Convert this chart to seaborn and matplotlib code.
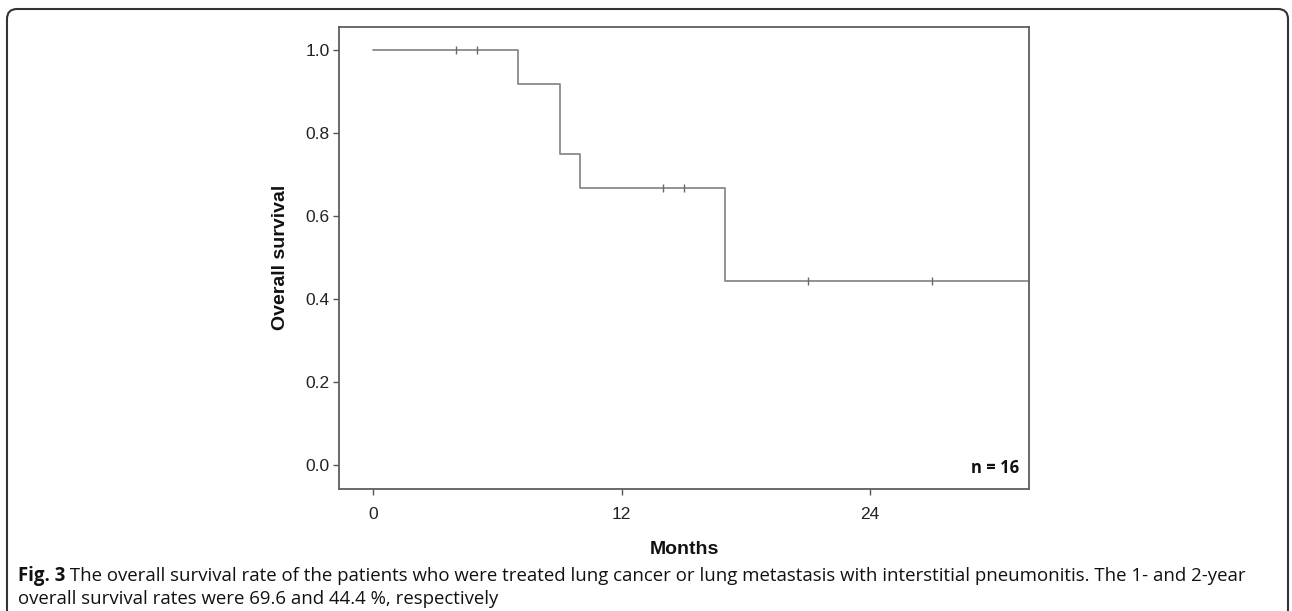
import matplotlib
matplotlib.use("Agg")
import matplotlib.pyplot as plt
import matplotlib.patches as mpatches
import matplotlib.transforms as mtransforms
import seaborn as sns
import pandas as pd

# Kaplan-Meier steps
km_months = [0, 7, 9, 10, 17, 33]
km_surv = [1.0, 0.917, 0.75, 0.667, 0.444, 0.444]

# censored observations (+ marks)
censor_months = [4, 5, 14, 15, 21, 27]
censor_surv = [1.0, 1.0, 0.667, 0.667, 0.444, 0.444]

x_ticks = [0, 12, 24]
y_ticks = [0.0, 0.2, 0.4, 0.6, 0.8, 1.0]

caption_bold = "Fig. 3"
caption_line1 = (" The overall survival rate of the patients who were treated lung cancer or lung "
                 "metastasis with interstitial pneumonitis. The 1- and 2-year")
caption_line2 = "overall survival rates were 69.6 and 44.4 %, respectively"

sns.set_theme(style="white")
plt.rcParams['font.family'] = ['Liberation Sans', 'DejaVu Sans']

W, H = 1292, 611
fig = plt.figure(figsize=(W / 100, H / 100), dpi=100)
ax = fig.add_axes([339.3 / W, 1 - 488.7 / H, (1029 - 339.3) / W, (488.7 - 27) / H])

km = pd.DataFrame({"Months": km_months, "Survival": km_surv})
cens = pd.DataFrame({"Months": censor_months, "Survival": censor_surv})

sns.lineplot(data=km, x="Months", y="Survival", drawstyle="steps-post",
             color="#8a8a8a", linewidth=1.3, ax=ax)
sns.scatterplot(data=cens, x="Months", y="Survival", marker="|", s=40,
                color="#6a6a6a", linewidth=1.0, ax=ax, zorder=3)

ax.set_xlim(-1.65, 31.7)
ax.set_ylim(-0.056, 1.055)
ax.set_xticks(x_ticks)
ax.set_yticks(y_ticks)
ax.set_xticklabels([str(t) for t in x_ticks], fontsize=12.5, color="#222222")
ax.set_yticklabels([f"{t:.1f}" for t in y_ticks], fontsize=12.5, color="#222222")
ax.tick_params(axis="both", which="major", length=4, width=1.0, color="#555555",
               direction="out", bottom=True, left=True, pad=3)
ax.tick_params(axis="x", pad=9)

for side in ["top", "right", "bottom", "left"]:
    ax.spines[side].set_visible(True)
    ax.spines[side].set_color("#5e5e5e")
    ax.spines[side].set_linewidth(1.3)

ax.set_xlabel("Months", fontsize=14, fontweight="bold", labelpad=14, color="#111111")
ax.set_ylabel("Overall survival", fontsize=14, fontweight="bold", labelpad=12, color="#111111")

ax.text(0.985, 0.025, "n = 16", transform=ax.transAxes, ha="right", va="bottom",
        fontsize=12, fontweight="bold", family=["Open Sans", "DejaVu Sans"], color="#111111")

# caption, bold label followed by regular text
cap_font = ["Open Sans", "DejaVu Sans"]
cap_size = 13.4
x0 = 18 / W
t_bold = fig.text(x0, 1 - 581 / H, caption_bold, fontsize=cap_size, fontweight="bold",
                  family=cap_font, va="baseline", color="#111111")
fig.canvas.draw()
bb = t_bold.get_window_extent(renderer=fig.canvas.get_renderer())
fig.text(bb.x1 / W, 1 - 581 / H, caption_line1, fontsize=cap_size, family=cap_font,
         va="baseline", color="#111111")
fig.text(x0, 1 - 604 / H, caption_line2, fontsize=cap_size, family=cap_font,
         va="baseline", color="#111111")

# rounded frame around the figure
frame = mpatches.FancyBboxPatch((7, -30), 1281, H - 9 + 30,
                                boxstyle="round,pad=0,rounding_size=10",
                                fill=False, edgecolor="#333333", linewidth=1.5,
                                transform=mtransforms.IdentityTransform())
fig.patches.append(frame)

fig.savefig("out.png", dpi=100)
